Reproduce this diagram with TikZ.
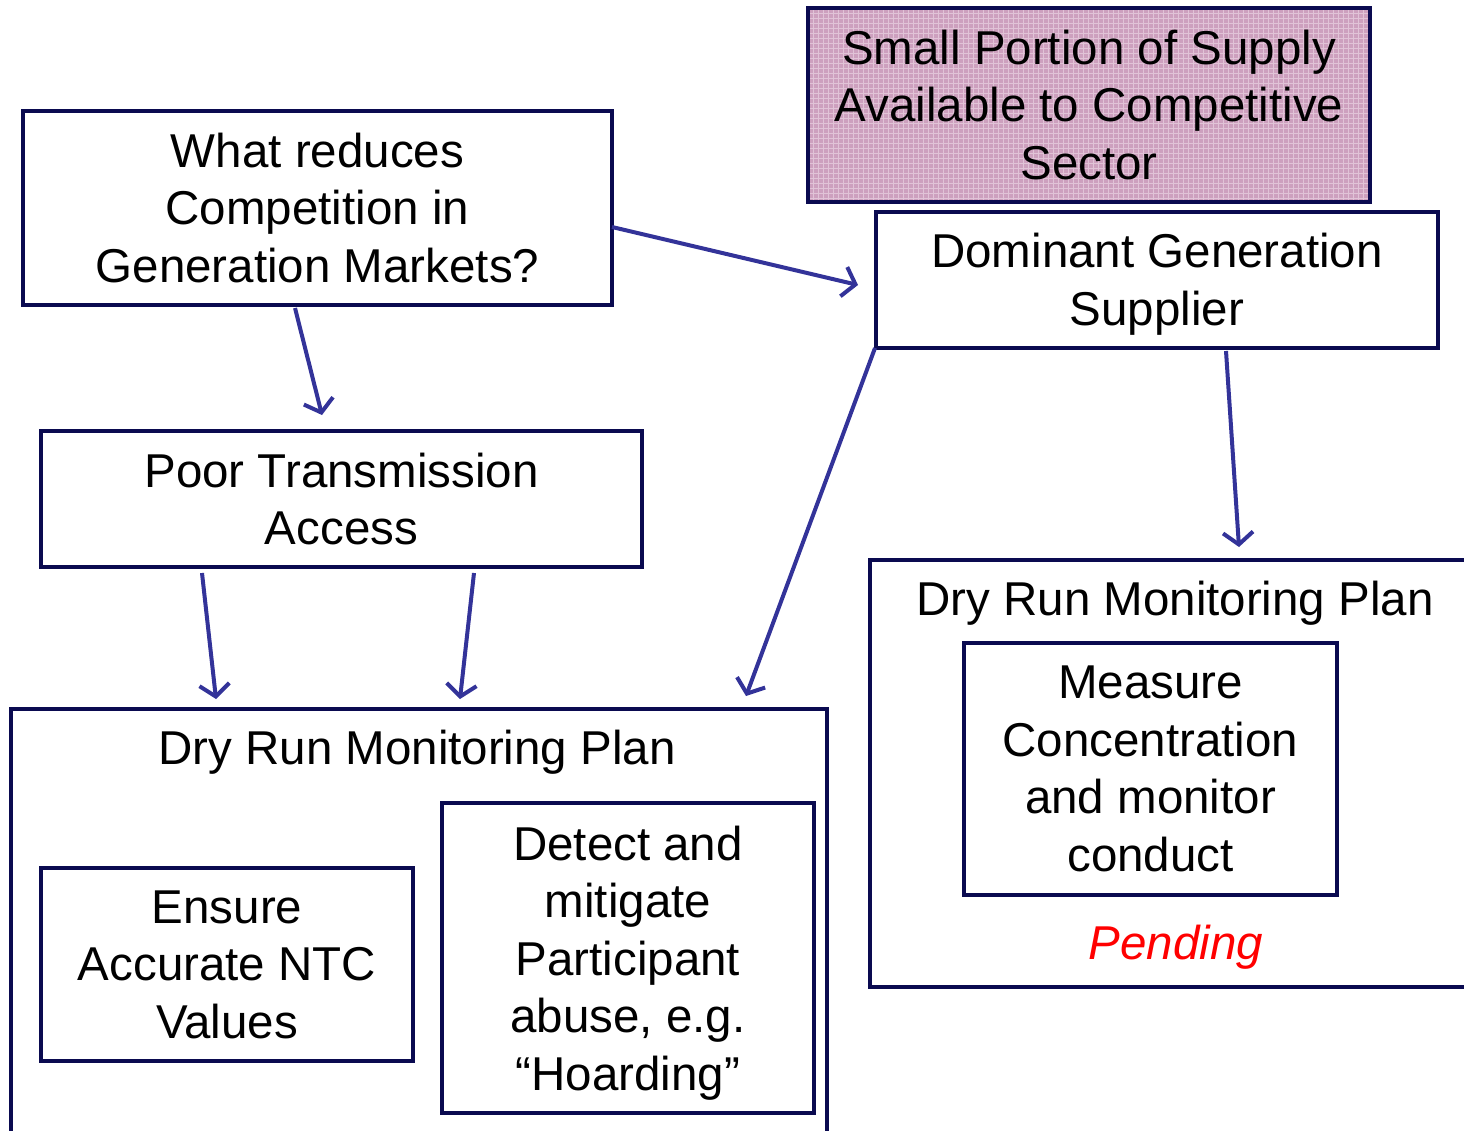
\documentclass[tikz,border=0pt]{standalone}
\usepackage{fontspec}
\setmainfont{Liberation Sans}
\usetikzlibrary{arrows.meta}
\definecolor{navy}{RGB}{10,10,80}
\definecolor{arr}{RGB}{51,51,153}
\definecolor{pinkfill}{RGB}{205,160,190}
\definecolor{pinkgrid}{RGB}{225,195,215}
\begin{document}
\begin{tikzpicture}[x=1pt,y=-1pt,
  box/.style={draw=navy,line width=4pt,rectangle,inner sep=0pt,align=center,
    font=\fontsize{47.5}{57.5}\selectfont},
  lbl/.style={inner sep=0pt,align=center,font=\fontsize{47.5}{57.5}\selectfont},
  conn/.style={draw=arr,line width=4pt,-{Straight Barb[length=12pt,width=30pt,line width=4pt]}}]
\useasboundingbox (0,0) rectangle (1464,1130);
\clip (0,0) rectangle (1464,1130);
% pink box
\fill[pinkfill] (808,8) rectangle (1370,202);
\begin{scope}
\clip (808,8) rectangle (1370,202);
\foreach \i in {0,5,...,565} \draw[pinkgrid,line width=0.8pt] (808+\i,8) -- (808+\i,202);
\foreach \j in {0,5,...,195} \draw[pinkgrid,line width=0.8pt] (808,8+\j) -- (1370,8+\j);
\end{scope}
\node[box,minimum width=562pt,minimum height=194pt] (small) at (1089,105)
  {Small Portion of Supply\\Available to Competitive\\Sector};
% other boxes
\node[box,minimum width=589pt,minimum height=194pt] (what) at (317.5,208)
  {What reduces\\Competition in\\Generation Markets?};
\node[box,minimum width=562pt,minimum height=136pt] (dom) at (1157,280) {};
\node[lbl] (domtxt) at (1157,284) {Dominant Generation\\Supplier};
\node[box,minimum width=601pt,minimum height=136pt] (poor) at (341.5,499)
  {Poor Transmission\\Access};
% left dry run (open at bottom)
\node[box,minimum width=816pt,minimum height=500pt,anchor=north west] (dryl) at (9,707) {};
\node[lbl] (dryltxt) at (417,752) {Dry Run Monitoring Plan};
\node[box,minimum width=372pt,minimum height=193pt] (ensure) at (227,964.5)
  {Ensure\\Accurate NTC\\Values};
\node[box,minimum width=372pt,minimum height=310pt] (detect) at (628,958) {};
\node[lbl] (detecttxt) at (628,963) {Detect and\\mitigate\\Participant\\abuse, e.g.\\“Hoarding”};
% right dry run (open at right)
\node[box,minimum width=700pt,minimum height=427pt,anchor=north west] (dryr) at (868,558) {};
\node[lbl] (dryrtxt) at (1175,603) {Dry Run Monitoring Plan};
\node[box,minimum width=373pt,minimum height=252pt] (measure) at (1150.5,769)
  {Measure\\Concentration\\and monitor\\conduct};
\node[lbl,text=red,font=\fontsize{47.5}{57.5}\selectfont\itshape] (pend) at (1176,947) {Pending};
% connector endpoints
\coordinate (a1s) at (612,227); \coordinate (a1e) at (858,285);
\coordinate (a2s) at (295,308); \coordinate (a2e) at (322,415);
\coordinate (a3s) at (875,348); \coordinate (a3e) at (746,696);
\coordinate (a4s) at (1226,351); \coordinate (a4e) at (1239,547);
\coordinate (a5s) at (202,573); \coordinate (a5e) at (216,699);
\coordinate (a6s) at (474,573); \coordinate (a6e) at (460,699);
\draw[conn] (a1s) -- (a1e);
\draw[conn] (a2s) -- (a2e);
\draw[conn] (a3s) -- (a3e);
\draw[conn] (a4s) -- (a4e);
\draw[conn] (a5s) -- (a5e);
\draw[conn] (a6s) -- (a6e);
\end{tikzpicture}
\end{document}
